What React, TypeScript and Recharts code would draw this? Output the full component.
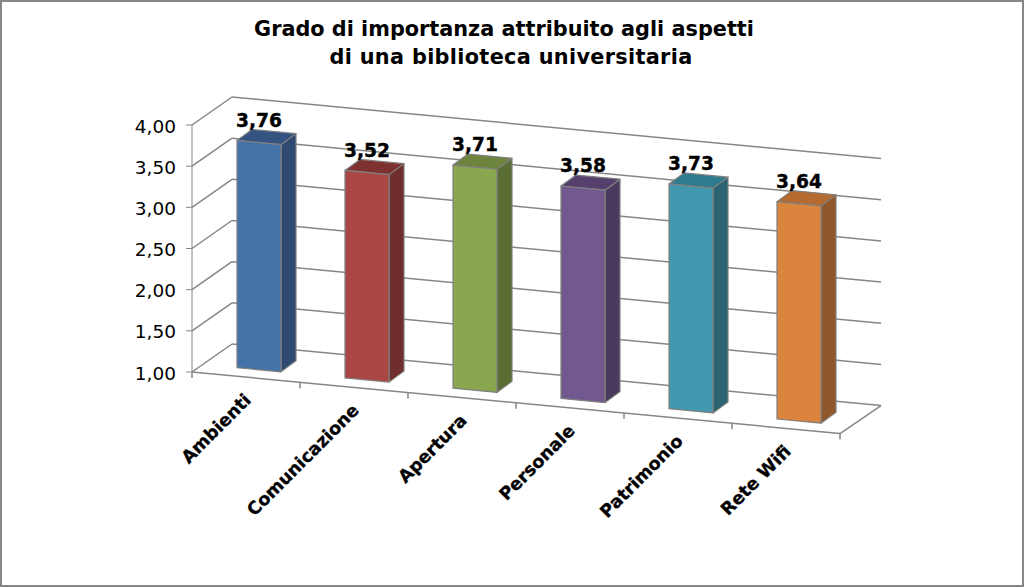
import { BarChart, Bar, XAxis, YAxis, CartesianGrid, LabelList } from "recharts";

const CATEGORIES = ["Ambienti", "Comunicazione", "Apertura", "Personale", "Patrimonio", "Rete Wifi"];
const VALUES = [3.76, 3.52, 3.71, 3.58, 3.73, 3.64];
const Y_TICKS = [1, 1.5, 2, 2.5, 3, 3.5, 4];

const FRONT = ["#4673A7", "#AA4644", "#8AA64F", "#71588F", "#4198AF", "#DB843D"];
const SIDE = ["#2E4A72", "#6F2D2B", "#5A6D33", "#4A3A5E", "#2A6473", "#90572A"];
const TOP = ["#335380", "#7E312F", "#6D843E", "#553F6C", "#2E7B8E", "#B56A2F"];

const data = CATEGORIES.map((name, i) => ({ name, value: VALUES[i] }));

const FONT = "'DejaVu Sans', Verdana, sans-serif";
const LINE = "#868686";
// fake 3D: everything slides down as x grows, the walls go back up and to the right
const PLOT_LEFT = 192;
const SLOPE = 0.095;
const WALL_DX = 40;
const WALL_DY = -28;
const BAR_SHIFT_X = 13;
const BAR_SHIFT_Y = -8.6;
const BAR_DX = 15;
const BAR_DY = -11;

const skew = (x: number) => (x - PLOT_LEFT) * SLOPE;

function GridLine(props: any) {
  const { x1, x2, y1 } = props;
  const isFloor = y1 > 370;
  const bx = x2 + WALL_DX + 1;
  const by = y1 + skew(x2) + WALL_DY;
  return (
    <g fill="none" stroke={LINE} strokeWidth={1.5}>
      <line x1={x1} y1={y1} x2={x1 + WALL_DX} y2={y1 + WALL_DY} />
      <line x1={x1 + WALL_DX} y1={y1 + WALL_DY} x2={bx} y2={by} />
      {isFloor && <line x1={x1} y1={y1} x2={x2} y2={y1 + skew(x2)} />}
      {isFloor && <line x1={x2} y1={y1 + skew(x2)} x2={bx} y2={by} />}
    </g>
  );
}

function Bar3D(props: any) {
  const { x, y, width, height, index } = props;
  const left = x + BAR_SHIFT_X;
  const right = left + width;
  const tl = y + skew(left) + BAR_SHIFT_Y;
  const tr = y + skew(right) + BAR_SHIFT_Y;
  const bl = tl + height;
  const br = tr + height;
  const edge = { stroke: "#7F7F7F", strokeWidth: 1.2, strokeLinejoin: "round" as const };
  return (
    <g>
      <polygon
        points={`${right},${tr} ${right + BAR_DX},${tr + BAR_DY} ${right + BAR_DX},${br + BAR_DY} ${right},${br}`}
        fill={SIDE[index]}
        {...edge}
      />
      <polygon
        points={`${left},${tl} ${left + BAR_DX},${tl + BAR_DY} ${right + BAR_DX},${tr + BAR_DY} ${right},${tr}`}
        fill={TOP[index]}
        {...edge}
      />
      <polygon points={`${left},${tl} ${right},${tr} ${right},${br} ${left},${bl}`} fill={FRONT[index]} {...edge} />
    </g>
  );
}

function ValueLabel(props: any) {
  const { x, y, width, value } = props;
  const cx = x + BAR_SHIFT_X + width / 2;
  return (
    <text
      x={cx}
      y={y + skew(cx) + BAR_SHIFT_Y - 16}
      textAnchor="middle"
      fontFamily={FONT}
      fontWeight="bold"
      fontSize={18.6}
      fill="#000"
      stroke="#000"
      strokeWidth={0.4}
    >
      {Number(value).toFixed(2).replace(".", ",")}
    </text>
  );
}

function CategoryTick(props: any) {
  const { x, y, payload, index } = props;
  const band = 108;
  const lastIndex = CATEGORIES.length - 1;
  const yAt = (px: number) => y + skew(px);
  return (
    <g>
      <line x1={x - band / 2} y1={yAt(x - band / 2)} x2={x - band / 2} y2={yAt(x - band / 2) + 6} stroke={LINE} strokeWidth={1.5} />
      {index === lastIndex && (
        <line x1={x + band / 2} y1={yAt(x + band / 2)} x2={x + band / 2} y2={yAt(x + band / 2) + 6} stroke={LINE} strokeWidth={1.5} />
      )}
      <text
        transform={`translate(${x + 6},${yAt(x) + 24}) rotate(-45)`}
        textAnchor="end"
        fontFamily={FONT}
        fontWeight="bold"
        fontSize={17.6}
        fill="#000"
        stroke="#000"
        strokeWidth={0.3}
      >
        {payload.value}
      </text>
    </g>
  );
}

export default function App() {
  return (
    <div
      style={{
        position: "absolute",
        left: 0,
        top: 0,
        width: 1024,
        height: 587,
        background: "#fff",
        boxShadow: "inset 0 0 0 2px #868686",
      }}
    >
      <div
        style={{
          position: "absolute",
          left: 0,
          top: 15,
          width: 1008,
          textAlign: "center",
          fontFamily: FONT,
          fontWeight: "bold",
          fontSize: 20.8,
          lineHeight: "28px",
          color: "#000",
        }}
      >
        Grado di importanza attribuito agli aspetti
        <br />
        <span style={{ position: "relative", left: 7, letterSpacing: 0.33 }}>di una biblioteca universitaria</span>
      </div>
      <BarChart
        width={1024}
        height={587}
        data={data}
        margin={{ top: 125, right: 184, bottom: 0, left: 0 }}
        style={{ position: "absolute", left: 0, top: 0 }}
      >
        <CartesianGrid vertical={false} horizontal={(p: any) => <GridLine key={p.key ?? p.y1} {...p} />} />
        <XAxis dataKey="name" height={215} axisLine={false} tickLine={false} tickSize={0} tickMargin={0} interval={0} tick={CategoryTick} />
        <YAxis
          width={192}
          domain={[1, 4]}
          ticks={Y_TICKS}
          interval={0}
          stroke={LINE}
          tickMargin={10}
          dy={1}
          tick={{ fontFamily: FONT, fontSize: 18.5, fill: "#000" }}
          tickFormatter={(v: number) => v.toFixed(2).replace(".", ",")}
        />
        <Bar dataKey="value" barSize={44} shape={Bar3D} isAnimationActive={false}>
          <LabelList dataKey="value" content={ValueLabel} />
        </Bar>
      </BarChart>
    </div>
  );
}
